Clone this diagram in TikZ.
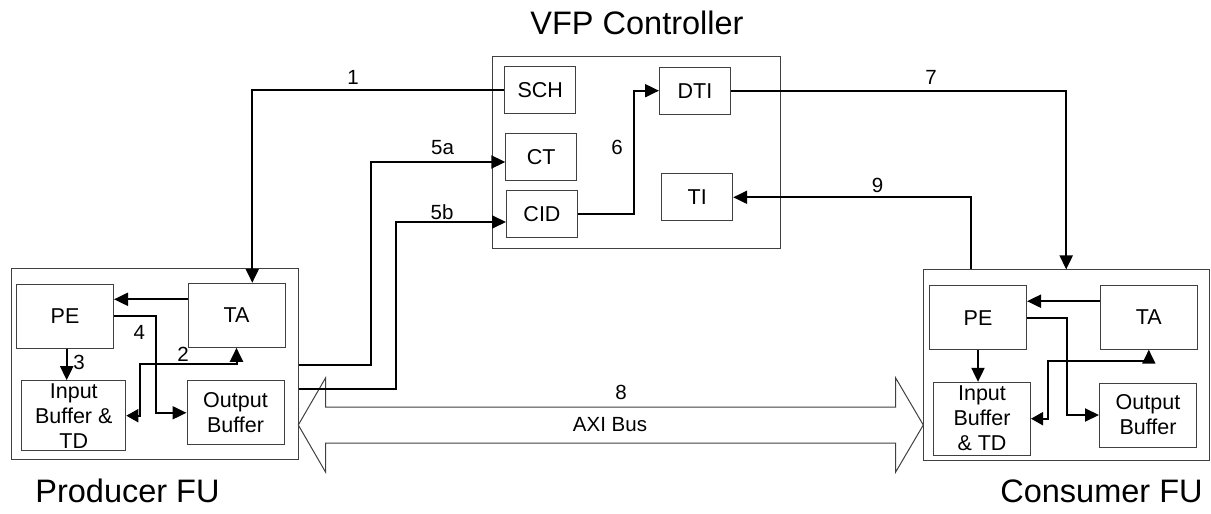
\documentclass[tikz,border=0pt]{standalone}
\usepackage{fontspec}
\setmainfont{Liberation Sans}
\usetikzlibrary{arrows.meta,positioning,calc}
\definecolor{boxgray}{HTML}{404040}
\tikzset{
  fubox/.style={draw=boxgray,line width=1pt,inner sep=0pt},
  blk/.style={draw=boxgray,line width=1pt,inner sep=0pt,minimum width=97pt,minimum height=64pt,
    font=\fontsize{21.5}{25}\selectfont,align=center},
  sblk/.style={blk,minimum width=71pt,minimum height=47pt},
  conn/.style={line width=2pt,-{Triangle[length=14pt,width=13pt]}},
  conn2/.style={line width=2pt,{Triangle[length=12pt,width=13pt]}-{Triangle[length=14pt,width=13pt]}},
  lbl/.style={font=\fontsize{20.5}{24}\selectfont,inner sep=0pt},
  ttl/.style={font=\fontsize{32.5}{36}\selectfont,inner sep=0pt},
}

\begin{document}
\begin{tikzpicture}[x=1pt,y=-1pt]
  \useasboundingbox (0,0) rectangle (1211,514);
  % controller
  \node[fubox,minimum width=288pt,minimum height=192.3pt] (ctrl) at (636.7,152.2) {};
  \node[sblk] (sch) at (540.3,90) {SCH};
  \node[sblk] (ct)  at (541.3,157.2) {CT};
  \node[sblk] (cid) at (542,214) {CID};
  \node[sblk] (dti) at (695,90.7) {DTI};
  \node[sblk] (ti)  at (697.2,197.3) {TI};
  \node[ttl] (ttlctrl) at (637,23) {VFP Controller};
  % producer FU
  \node[fubox,minimum width=286.6pt,minimum height=190.7pt] (prodfu) at (155,363.7) {};
  \node[blk] (pPE) at (65,316) {PE};
  \node[blk] (pTA) at (236.5,315.3) {TA};
  \node[blk,minimum width=104pt,minimum height=70pt] (pIB) at (73.8,415.7) {Input\\Buffer \&\\TD};
  \node[blk] (pOB) at (235.5,412.8) {Output\\Buffer};
  \node[ttl] (ttlprod) at (127.5,491) {Producer FU};
  % consumer FU
  \node[fubox,minimum width=285.7pt,minimum height=190.7pt] (consfu) at (1066.2,365.3) {};
  \node[blk] (cPE) at (978,317.8) {PE};
  \node[blk] (cTA) at (1148.8,317.2) {TA};
  \node[blk,minimum height=72.7pt] (cIB) at (982,418.7) {Input\\Buffer\\\& TD};
  \node[blk] (cOB) at (1148,415) {Output\\Buffer};
  \node[ttl] (ttlcons) at (1101.5,491) {Consumer FU};
  % AXI bus
  \draw[draw=boxgray,line width=1pt] (298.3,425) -- (325.5,378) -- (325.5,407) -- (895.7,407)
    -- (895.7,378) -- (923.3,425) -- (895.7,472) -- (895.7,443) -- (325.5,443) -- (325.5,472) -- cycle;
  \node[lbl] (n8) at (621,392) {8};
  \node[lbl] (nbus) at (610,424.6) {AXI Bus};
  % bend points
  \coordinate (b5a) at (371,162);
  \coordinate (b5b) at (396,222);
  \coordinate (b6) at (634,150);
  \coordinate (b9) at (971,197.3);
  \coordinate (p4) at (156,360);
  \coordinate (p2) at (140,364);
  \coordinate (c4) at (1067,360);
  \coordinate (c2) at (1048,361);
  % controller links
  \draw[conn] (sch.west) -| ([xshift=15.8pt]pTA.north);
  \draw[conn] ([yshift=-1.3pt]prodfu.east) -| (b5a) -- (b5a -| ct.west);
  \draw[conn] ([yshift=-25.6pt]prodfu.east) -| (b5b) -- (b5b -| cid.west);
  \draw[conn] (cid.east) -| (b6) |- (dti.west);
  \draw[conn] (dti.east) -| (consfu.north);
  \draw[conn] (b9 |- consfu.north) -- (b9) -- (ti.east);
  \node[lbl] (n1) at (353,77) {1};
  \node[lbl] (n5a) at (442.5,148) {5a};
  \node[lbl] (n5b) at (442,212) {5b};
  \node[lbl] (n6) at (617,147) {6};
  \node[lbl] (n7) at (931,77) {7};
  \node[lbl] (n9) at (877.5,185) {9};
  % inside producer
  \draw[conn] ([yshift=16pt]pTA.west) -- ([yshift=16pt]pTA.west -| pPE.east);
  \draw[conn] (pPE.east) -| (p4) |- (pOB.west);
  \draw[conn] ([xshift=1.7pt]pPE.south) -- ([xshift=1.7pt]pPE.south |- pIB.north);
  \draw[conn2] (pIB.east) -| (p2) -| (pTA.south);
  \node[lbl] (n2) at (183,354) {2};
  \node[lbl] (n3) at (79,362) {3};
  \node[lbl] (n4) at (139.3,332) {4};
  % inside consumer
  \draw[conn] ([yshift=16pt]cTA.west) -- ([yshift=16pt]cTA.west -| cPE.east);
  \draw[conn] (cPE.east) -| (c4) |- (cOB.west);
  \draw[conn] (cPE.south) -- (cPE.south |- cIB.north);
  \draw[conn2] (cIB.east) -| (c2) -| (cTA.south);
\end{tikzpicture}
\end{document}
